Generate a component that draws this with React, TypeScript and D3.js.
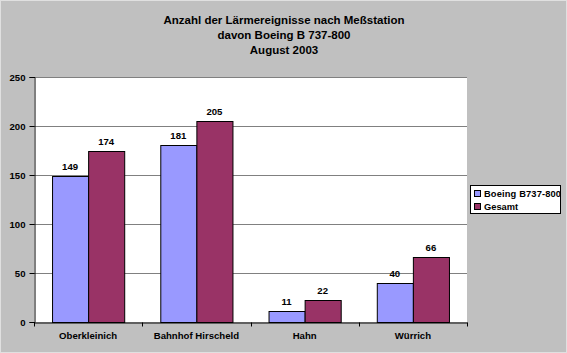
import React, { useEffect, useRef } from 'react';
import * as d3 from 'd3';

const stations = ['Oberkleinich', 'Bahnhof Hirscheld', 'Hahn', 'Würrich'];
const boeing = [149, 181, 11, 40];
const gesamt = [174, 205, 22, 66];
const seriesNames = ['Boeing B737-800', 'Gesamt'];
const seriesColors = ['#9999ff', '#993366'];
const yTicks = [0, 50, 100, 150, 200, 250];
const titleLines = ['Anzahl der Lärmereignisse nach Meßstation', 'davon Boeing B 737-800', 'August 2003'];

const App = () => {
  const svgRef = useRef<SVGSVGElement>(null);

  useEffect(() => {
    const svg = d3.select(svgRef.current);
    svg.selectAll('*').remove();
    const width = 567;
    const height = 353;
    const plot = { left: 34, right: 467, top: 77, bottom: 322 };
    const font = 'Liberation Sans, Arial, sans-serif';

    svg.append('rect')
      .attr('x', 0.5).attr('y', 0.5)
      .attr('width', width - 1).attr('height', height - 1)
      .attr('fill', '#c0c0c0').attr('stroke', '#e0e0e0');

    // title
    svg.append('g').selectAll('text')
      .data(titleLines)
      .enter().append('text')
      .attr('x', 284)
      .attr('y', (d, i) => 24 + i * 15)
      .attr('text-anchor', 'middle')
      .attr('font-family', font)
      .attr('font-size', 11.5)
      .attr('font-weight', 'bold')
      .text(d => d);

    const x = d3.scaleBand()
      .domain(stations)
      .range([plot.left, plot.right])
      .paddingInner(0)
      .paddingOuter(0);

    const sub = d3.scaleBand()
      .domain(seriesNames)
      .range([0, x.bandwidth()])
      .paddingInner(0)
      .paddingOuter(0.5);

    const y = d3.scaleLinear()
      .domain([0, 250])
      .range([plot.bottom, plot.top]);

    svg.append('rect')
      .attr('x', plot.left).attr('y', plot.top)
      .attr('width', plot.right - plot.left).attr('height', plot.bottom - plot.top)
      .attr('fill', '#ffffff');

    // gridlines
    svg.append('g').selectAll('line')
      .data(yTicks.filter(t => t > 0))
      .enter().append('line')
      .attr('x1', plot.left).attr('x2', plot.right)
      .attr('y1', d => Math.round(y(d)) + 0.5).attr('y2', d => Math.round(y(d)) + 0.5)
      .attr('stroke', '#808080');

    const rows = stations.map((s, i) => ({ station: s, values: [boeing[i], gesamt[i]] }));

    const groups = svg.append('g').selectAll('g')
      .data(rows)
      .enter().append('g')
      .attr('transform', d => `translate(${x(d.station)},0)`);

    groups.selectAll('rect')
      .data(d => d.values.map((v, j) => ({ v, j })))
      .enter().append('rect')
      .attr('x', d => (sub(seriesNames[d.j]) as number) + 0.5)
      .attr('y', d => Math.round(y(d.v)) + 0.5)
      .attr('width', sub.bandwidth())
      .attr('height', d => Math.round(plot.bottom - y(d.v)))
      .attr('fill', d => seriesColors[d.j])
      .attr('stroke', '#000000')
      .attr('stroke-width', 1);

    groups.selectAll('text')
      .data(d => d.values.map((v, j) => ({ v, j })))
      .enter().append('text')
      .attr('x', d => (sub(seriesNames[d.j]) as number) + sub.bandwidth() / 2)
      .attr('y', d => y(d.v) - 6)
      .attr('text-anchor', 'middle')
      .attr('font-family', font)
      .attr('font-size', 9.6)
      .attr('font-weight', 'bold')
      .text(d => d.v);

    // y axis
    const yAxis = svg.append('g')
      .attr('transform', `translate(${plot.left + 0.5},0)`)
      .call(d3.axisLeft(y).tickValues(yTicks).tickSize(5).tickPadding(4));
    yAxis.select('.domain').attr('stroke', '#000000');
    yAxis.selectAll('line').attr('stroke', '#000000');
    yAxis.selectAll('text')
      .attr('font-family', font).attr('font-size', 9.6).attr('font-weight', 'bold').attr('fill', '#000000');

    // x axis
    const xAxis = svg.append('g')
      .attr('transform', `translate(0,${plot.bottom + 0.5})`)
      .call(d3.axisBottom(x).tickSize(0).tickPadding(10));
    xAxis.select('.domain').attr('stroke', '#000000');
    xAxis.selectAll('text')
      .attr('font-family', font).attr('font-size', 9.6).attr('font-weight', 'bold').attr('fill', '#000000');
    xAxis.append('g').selectAll('line')
      .data(d3.range(stations.length + 1))
      .enter().append('line')
      .attr('x1', i => Math.round(plot.left + i * x.step()) + 0.5)
      .attr('x2', i => Math.round(plot.left + i * x.step()) + 0.5)
      .attr('y1', 0).attr('y2', 4)
      .attr('stroke', '#000000');

    // legend
    const legend = svg.append('g').attr('transform', 'translate(470,185)');
    legend.append('rect')
      .attr('x', 0.5).attr('y', 0.5).attr('width', 90).attr('height', 28)
      .attr('fill', '#ffffff').attr('stroke', '#000000');
    const items = legend.selectAll('g.item')
      .data(seriesNames)
      .enter().append('g')
      .attr('class', 'item')
      .attr('transform', (d, i) => `translate(4,${5 + i * 13})`);
    items.append('rect')
      .attr('x', 0.5).attr('y', 0.5).attr('width', 6).attr('height', 6)
      .attr('fill', (d, i) => seriesColors[i]).attr('stroke', '#000000');
    items.append('text')
      .attr('x', 10).attr('y', 7)
      .attr('font-family', font).attr('font-size', 9.3).attr('font-weight', 'bold')
      .attr('textLength', d => (d === 'Gesamt' ? null : 77))
      .text(d => d);
  }, []);

  return (
    <svg ref={svgRef} width={567} height={353} style={{ position: 'absolute', left: 0, top: 0 }}></svg>
  );
};

export default App;
